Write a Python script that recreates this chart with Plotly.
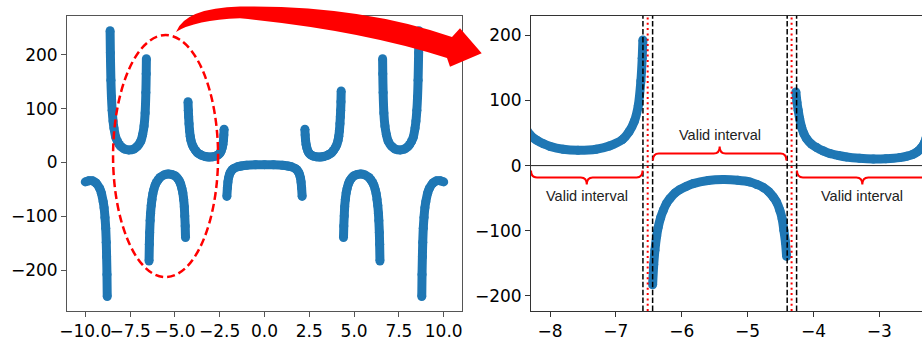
import plotly.graph_objects as go

W, H = 922, 341
BLUE = "#1f77b4"
RED = "#ff0000"

b1_x = [-10.0, -9.8, -9.6, -9.4, -9.2, -9.1, -9.0, -8.95, -8.9, -8.86, -8.83, -8.81, -8.79, -8.775]
b1_y = [-36, -34, -34, -38, -48, -57, -73, -84, -102, -122, -148, -175, -208, -249]

b2_x = [-8.615, -8.6, -8.57, -8.54, -8.5, -8.45, -8.4, -8.3, -8.2, -8.1, -8.0, -7.8, -7.575,
        -7.3, -7.1, -6.9, -6.8, -6.72, -6.66, -6.62, -6.6, -6.59]
b2_y = [245, 204, 153, 122, 97, 77, 64, 47, 39, 33.5, 29.5, 25, 23.5,
        25, 30, 40, 52, 68, 92, 130, 165, 193]

b3_x = [-6.442, -6.425, -6.407, -6.38, -6.357, -6.32, -6.28, -6.23, -6.18, -6.1, -6.03, -5.93,
        -5.825, -5.6, -5.37, -5.15, -4.965, -4.86, -4.76, -4.68, -4.61, -4.56, -4.51, -4.475,
        -4.449, -4.425, -4.408]
b3_y = [-183, -152, -130, -108, -94.5, -80, -68.8, -58, -50.8, -42, -37, -32,
        -27.7, -23, -21.5, -22.5, -25.2, -29, -33.8, -40, -48.3, -56, -68.8, -82,
        -99.5, -118, -139.5]

b4_x = [-4.267, -4.25, -4.232, -4.21, -4.18, -4.145, -4.105, -4.03, -3.95, -3.85, -3.75, -3.62,
        -3.5, -3.3, -3.09, -2.9, -2.69, -2.58, -2.49, -2.42, -2.36, -2.32, -2.29, -2.27, -2.255]
b4_y = [113, 97, 85, 72, 59, 49, 41.5, 33, 27.7, 22.5, 18.5, 15.5,
        13.3, 11.2, 10.2, 10.6, 12.3, 14.5, 17.4, 21.5, 27.7, 34, 42, 51, 62]

b5_x = [-2.1, -2.07, -2.04, -2.0, -1.95, -1.9, -1.8, -1.7, -1.5, -1.3, -1.0, -0.5, 0.0,
        0.5, 1.0, 1.3, 1.5, 1.7, 1.8, 1.9, 1.95, 2.0, 2.04, 2.07, 2.1]
b5_y = [-63, -47, -36, -28, -22, -18, -13.5, -11, -8, -6.5, -5, -4.2, -4,
        -4.2, -5, -6.5, -8, -11, -13.5, -18, -22, -28, -36, -47, -63]

b6_x = [2.255, 2.27, 2.29, 2.32, 2.36, 2.42, 2.49, 2.58, 2.69, 2.9, 3.09, 3.3, 3.5, 3.62,
        3.75, 3.85, 3.95, 4.03, 4.105, 4.145, 4.18, 4.21, 4.232, 4.25, 4.267, 4.278]
b6_y = [62, 51, 42, 34, 27.7, 21.5, 17.4, 14.5, 12.3, 10.6, 10.2, 11.2, 13.3, 15.5,
        18.5, 22.5, 27.7, 33, 41.5, 49, 59, 72, 85, 97, 113, 133]

b7_x = [4.408, 4.425, 4.449, 4.475, 4.51, 4.56, 4.61, 4.68, 4.76, 4.86, 4.965, 5.15, 5.37,
        5.6, 5.825, 5.93, 6.03, 6.1, 6.18, 6.23, 6.28, 6.32, 6.357, 6.38, 6.407, 6.425, 6.442]
b7_y = [-139.5, -118, -99.5, -82, -68.8, -56, -48.3, -40, -33.8, -29, -25.2, -22.5, -21.5,
        -23, -27.7, -32, -37, -42, -50.8, -58, -68.8, -80, -94.5, -108, -130, -152, -183]

b8_x = [6.59, 6.6, 6.62, 6.66, 6.72, 6.8, 6.9, 7.1, 7.3, 7.575, 7.8, 8.0, 8.1, 8.2, 8.3,
        8.4, 8.45, 8.5, 8.54, 8.57, 8.6, 8.615]
b8_y = [193, 165, 130, 92, 68, 52, 40, 30, 25, 23.5, 25, 29.5, 33.5, 39, 47,
        64, 77, 97, 122, 153, 204, 245]

b9_x = [8.775, 8.79, 8.81, 8.83, 8.86, 8.9, 8.95, 9.0, 9.1, 9.2, 9.4, 9.6, 9.8, 10.0]
b9_y = [-249, -208, -175, -148, -122, -102, -84, -73, -57, -48, -38, -34, -34, -36]

left_xticks = [-10, -7.5, -5, -2.5, 0, 2.5, 5, 7.5, 10]
left_yticks = [-200, -100, 0, 100, 200]
right_xticks = [-8, -7, -6, -5, -4, -3]
right_yticks = [-200, -100, 0, 100, 200]

# zoomed-panel markers: asymptotes (red dotted) and interval bounds (black dashed)
asymptotes = [-6.517, -4.332]
bounds = [-6.589, -6.442, -4.399, -4.256]
intervals = [(-8.2885, -6.595, -1), (-6.437, -4.411, 1), (-4.25, -2.266, -1)]
interval_label = "Valid interval"

branches = [(b1_x, b1_y), (b2_x, b2_y), (b3_x, b3_y), (b4_x, b4_y), (b5_x, b5_y),
            (b6_x, b6_y), (b7_x, b7_y), (b8_x, b8_y), (b9_x, b9_y)]

fig = go.Figure()
for bx, by in branches:
    for xa, ya in (("x", "y"), ("x2", "y2")):
        fig.add_trace(go.Scatter(
            x=bx, y=by, mode="lines+markers", xaxis=xa, yaxis=ya,
            line=dict(color=BLUE, width=9, shape="spline", smoothing=0.8),
            marker=dict(color=BLUE, size=9, line=dict(width=0)),
            showlegend=False, hoverinfo="skip"))


def ppx(px, py):
    return px / W, 1 - py / H


tick_font = dict(family="DejaVu Sans, sans-serif", size=17, color="black")
axis_common = dict(showgrid=False, zeroline=False, showline=True, linewidth=1,
                   ticks="outside", ticklen=5, tickwidth=1, tickfont=tick_font,
                   tickangle=0, automargin=False)

fig.update_layout(
    width=W, height=H, margin=dict(l=0, r=0, t=0, b=0, pad=0),
    paper_bgcolor="white", plot_bgcolor="white",
    xaxis=dict(domain=[67 / W, 462 / W], range=[-11.02, 11.02], anchor="y",
               tickvals=left_xticks, tickformat=".1f", mirror=True,
               linecolor="#555", tickcolor="#555", **axis_common),
    yaxis=dict(domain=[1 - 310.7 / H, 1 - 15.7 / H], range=[-275.5, 273], anchor="x",
               tickvals=left_yticks, mirror=True,
               linecolor="#555", tickcolor="#555", **axis_common),
    xaxis2=dict(domain=[531 / W, 1.0], range=[-8.2885, -2.352], anchor="y2",
                tickvals=right_xticks, mirror=True,
                linecolor="#333", tickcolor="#333", **axis_common),
    yaxis2=dict(domain=[1 - 311 / H, 1 - 15.7 / H], range=[-223.4, 230.3], anchor="x2",
                tickvals=right_yticks, mirror=False,
                linecolor="#333", tickcolor="#333", **axis_common),
)

shapes = []
# zero line on zoomed panel
shapes.append(dict(type="line", xref="x2 domain", x0=0, x1=1, yref="y2", y0=0, y1=0,
                   line=dict(color="#222", width=1), layer="above"))
for b in bounds:
    shapes.append(dict(type="line", xref="x2", x0=b, x1=b, yref="y2 domain", y0=0, y1=1,
                       line=dict(color="black", width=1.5, dash="5.5px,2.4px"), layer="above"))
for a in asymptotes:
    shapes.append(dict(type="line", xref="x2", x0=a, x1=a, yref="y2 domain", y0=0, y1=1,
                       line=dict(color=RED, width=2, dash="2px,3.3px"), layer="above"))


def brace_path(x0, x1, s):
    ye, yh, yt = 7.7 * s, 18.4 * s, 29.2 * s
    r = 0.09
    xm = (x0 + x1) / 2
    return (f"M {x0},{ye} Q {x0},{yh} {x0 + r},{yh} L {xm - r},{yh} "
            f"Q {xm},{yh} {xm},{yt} Q {xm},{yh} {xm + r},{yh} "
            f"L {x1 - r},{yh} Q {x1},{yh} {x1},{ye}")


for x0, x1, s in intervals:
    shapes.append(dict(type="path", xref="x2", yref="y2", path=brace_path(x0, x1, s),
                       line=dict(color=RED, width=2), layer="above"))

# dashed ellipse on the overview panel
shapes.append(dict(type="circle", xref="x", yref="y", x0=-8.45, x1=-2.59, y0=-213, y1=237,
                   line=dict(color=RED, width=2.5, dash="8px,4px"), layer="above"))

# curved red arrow (figure coordinates)
pts = [(176, 32), (185, 8), (240, 6.5), (360, 5), (452, 37), (460, 28.3), (481.7, 53.3),
       (450, 66.7), (447, 58), (360, 30), (240, 18.3), (195, 20), (176, 32)]
P = [ppx(*p) for p in pts]
f = lambda p: f"{p[0]:.5f},{p[1]:.5f}"
arrow = (f"M {f(P[0])} Q {f(P[1])} {f(P[2])} Q {f(P[3])} {f(P[4])} L {f(P[5])} L {f(P[6])} "
         f"L {f(P[7])} L {f(P[8])} Q {f(P[9])} {f(P[10])} Q {f(P[11])} {f(P[12])} Z")
shapes.append(dict(type="path", xref="paper", yref="paper", path=arrow,
                   fillcolor=RED, line=dict(width=0), layer="above"))

fig.update_layout(shapes=shapes)

annotations = []
for x0, x1, s in intervals:
    xm = (x0 + x1) / 2
    annotations.append(dict(x=xm, y=47 * s, xref="x2", yref="y2", text=interval_label,
                            showarrow=False, xanchor="center", yanchor="middle",
                            font=dict(family="Liberation Sans, Arial", size=14.5, color="#222")))
fig.update_layout(annotations=annotations)

fig.write_html(
    "out.html",
    config={"displayModeBar": False, "staticPlot": True},
    post_script="document.body.style.margin='0';document.body.style.overflow='hidden';",
)
